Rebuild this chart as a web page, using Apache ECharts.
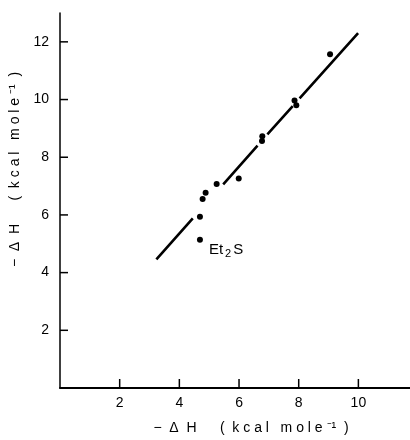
<!DOCTYPE html>
<html><head><meta charset="utf-8">
<script src="https://cdn.jsdelivr.net/npm/echarts@6/dist/echarts.min.js"></script>
<style>html,body{margin:0;padding:0;background:#fff}#c{width:410px;height:440px}</style>
</head><body><div id="c"></div>
<script>
// Data
var pointsX = [4.69, 4.69, 4.78, 4.88, 5.25, 5.99, 6.77, 6.78, 7.86, 7.92, 9.05];
var pointsY = [5.14, 5.94, 6.55, 6.77, 7.07, 7.26, 8.56, 8.73, 9.97, 9.80, 11.57];
var pointNames = ['Et₂S', '', '', '', '', '', '', '', '', '', ''];
// fitted line drawn in broken segments (start/end of each piece)
var segStartX = [3.23, 5.47, 6.95, 8.03];
var segStartY = [4.46, 7.06, 8.79, 10.04];
var segEndX = [4.45, 6.62, 7.80, 9.99];
var segEndY = [5.88, 8.40, 9.77, 12.30];
var xTicks = [2, 4, 6, 8, 10];
var yTicks = [2, 4, 6, 8, 10, 12];
var axisTitle = '−  Δ  H      (  k c a l   m o l e ⁻¹  )';

var FONT = 'Liberation Sans';
var lineData = [];
for (var i = 0; i < segStartX.length; i++) {
  if (i > 0) lineData.push([null, null]);
  lineData.push([segStartX[i], segStartY[i]]);
  lineData.push([segEndX[i], segEndY[i]]);
}
var scatterData = pointsX.map(function (x, i) {
  var d = { value: [x, pointsY[i]] };
  if (pointNames[i]) {
    d.label = {
      show: true, position: 'right', offset: [0, 10],
      formatter: '{a|Et}{s|2}{a|S}',
      rich: {
        a: { fontFamily: FONT, fontSize: 15, color: '#000', padding: [0, 1, 0, 1] },
        s: { fontFamily: FONT, fontSize: 11, color: '#000', verticalAlign: 'bottom', padding: [8, 1, 0, 1] }
      }
    };
  }
  return d;
});

var chart = echarts.init(document.getElementById('c'), null, { renderer: 'canvas' });
chart.setOption({
  animation: false,
  backgroundColor: '#fff',
  grid: { left: 58, right: 0, top: 13, bottom: 50, containLabel: false },
  xAxis: {
    type: 'value', min: 0, max: 11.73, interval: 2,
    axisLine: { show: true, onZero: false, lineStyle: { color: '#000', width: 2 } },
    axisTick: { show: false },
    axisLabel: { color: '#000', fontFamily: FONT, fontSize: 14, margin: 8, customValues: xTicks },
    splitLine: { show: false },
    name: axisTitle, nameLocation: 'middle', nameGap: 33,
    nameTextStyle: { color: '#000', fontFamily: FONT, fontSize: 14, padding: [0, 0, 0, 32] }
  },
  yAxis: {
    type: 'value', min: 0, max: 13, interval: 2,
    axisLine: { show: true, onZero: false, lineStyle: { color: '#000', width: 1.5 } },
    axisTick: { show: false },
    axisLabel: { color: '#000', fontFamily: FONT, fontSize: 14, margin: 11, customValues: yTicks },
    splitLine: { show: false },
    name: axisTitle, nameLocation: 'middle', nameGap: 38, nameRotate: 90,
    nameTextStyle: { color: '#000', fontFamily: FONT, fontSize: 14, padding: [0, 0, 0, 62] }
  },
  series: [
    {
      type: 'line', data: lineData, showSymbol: false, connectNulls: false,
      lineStyle: { color: '#000', width: 2.6 }, silent: true, z: 2
    },
    {
      type: 'scatter', data: scatterData, symbol: 'circle', symbolSize: 6,
      itemStyle: { color: '#000', opacity: 1 }, z: 3
    },
    {
      // inward x-axis ticks
      type: 'custom', silent: true, z: 4,
      data: xTicks.map(function (v) { return [v, 0]; }),
      renderItem: function (params, api) {
        var p = api.coord([api.value(0), 0]);
        return { type: 'line', shape: { x1: p[0], y1: p[1], x2: p[0], y2: p[1] - 9 },
          style: { stroke: '#000', lineWidth: 1.5 } };
      }
    },
    {
      // inward y-axis ticks
      type: 'custom', silent: true, z: 4,
      data: yTicks.map(function (v) { return [0, v]; }),
      renderItem: function (params, api) {
        var p = api.coord([0, api.value(1)]);
        return { type: 'line', shape: { x1: p[0], y1: p[1], x2: p[0] + 8, y2: p[1] },
          style: { stroke: '#000', lineWidth: 1.5 } };
      }
    }
  ]
});
</script>
</body></html>
